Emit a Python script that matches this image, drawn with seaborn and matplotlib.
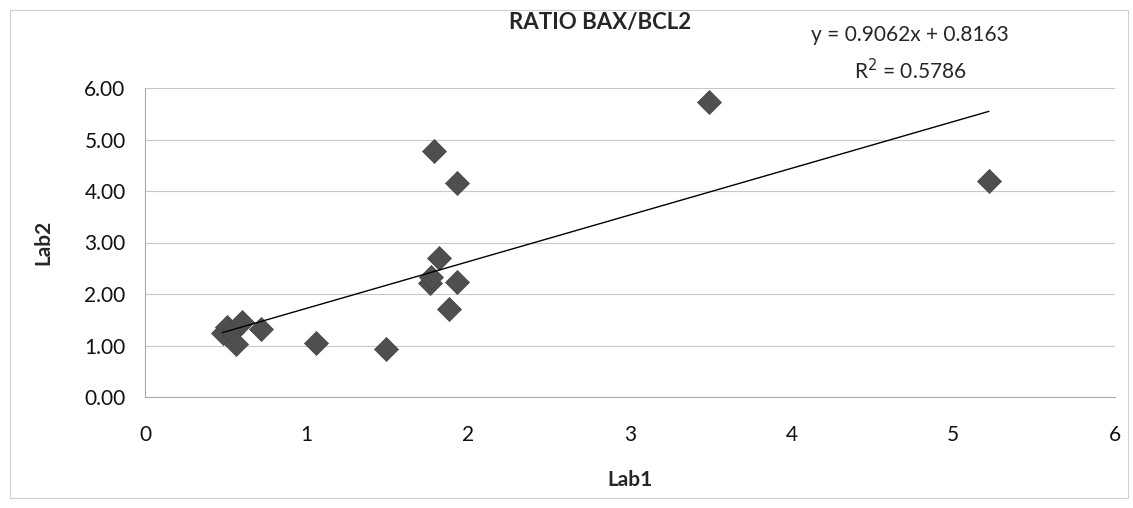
import matplotlib
matplotlib.use("Agg")
import matplotlib.pyplot as plt
import seaborn as sns
import numpy as np
import pandas as pd

# values
lab1 = [0.48, 0.51, 0.54, 0.56, 0.60, 0.72, 1.06, 1.49, 1.76, 1.77,
        1.79, 1.82, 1.88, 1.93, 1.93, 3.49, 5.22]
lab2 = [1.24, 1.36, 1.26, 1.03, 1.45, 1.32, 1.05, 0.93, 2.22, 2.33,
        4.78, 2.70, 1.71, 2.23, 4.15, 5.73, 4.20]
slope = 0.9062
intercept = 0.8163
r2 = 0.5786

df = pd.DataFrame({'Lab1': lab1, 'Lab2': lab2})

sns.set_style('white')
plt.rcParams['font.family'] = ['Lato', 'DejaVu Sans']

fig = plt.figure(figsize=(11.33, 5.08), dpi=100)
ax = fig.add_axes([145 / 1133, 1 - 397 / 508, 970 / 1133, 309 / 508])

sns.scatterplot(data=df, x='Lab1', y='Lab2', marker='D', s=150,
                color='#4f4f4f', edgecolor='#444444', linewidth=0.5, ax=ax, zorder=3)

xs = np.array([min(lab1), max(lab1)])
ax.plot(xs, slope * xs + intercept, color='black', lw=1.0, zorder=4)

ax.set_xlim(0, 6)
ax.set_ylim(0, 6)
ax.set_yticks(np.arange(0, 6.01, 1))
ax.set_yticklabels([f'{v:.2f}' for v in np.arange(0, 6.01, 1)])
ax.set_xticks(range(7))
ax.tick_params(labelsize=15, length=0, colors='#111111')
ax.tick_params(axis='y', pad=14)
ax.tick_params(axis='x', pad=20)
ax.yaxis.grid(True, color='#c8c8c8', lw=0.8)
ax.xaxis.grid(False)
for side in ['top', 'right']:
    ax.spines[side].set_visible(False)
for side in ['left', 'bottom']:
    ax.spines[side].set_color('#aaaaaa')
    ax.spines[side].set_linewidth(0.8)

ax.set_xlabel('Lab1', fontsize=15, fontweight='bold', labelpad=18)
ax.set_ylabel('Lab2', fontsize=15, fontweight='bold', labelpad=22)

fig.text(600 / 1133, 1 - 22 / 508, 'RATIO BAX/BCL2', ha='center', va='center',
         fontsize=16, fontweight='bold')
fig.text(910 / 1133, 1 - 35 / 508, f'y = {slope}x + {intercept}', ha='center', va='center',
         fontsize=15)
fig.text(910 / 1133, 1 - 71 / 508, f'R$^2$ = {r2}', ha='center', va='center',
         fontsize=15)

# outer chart frame
fig.patches.append(plt.Rectangle((10 / 1133, 0.02), 1118 / 1133, 0.96,
                                 transform=fig.transFigure, fill=False,
                                 edgecolor='#d0d0d0', lw=0.8))

fig.savefig('out.png', dpi=100)
